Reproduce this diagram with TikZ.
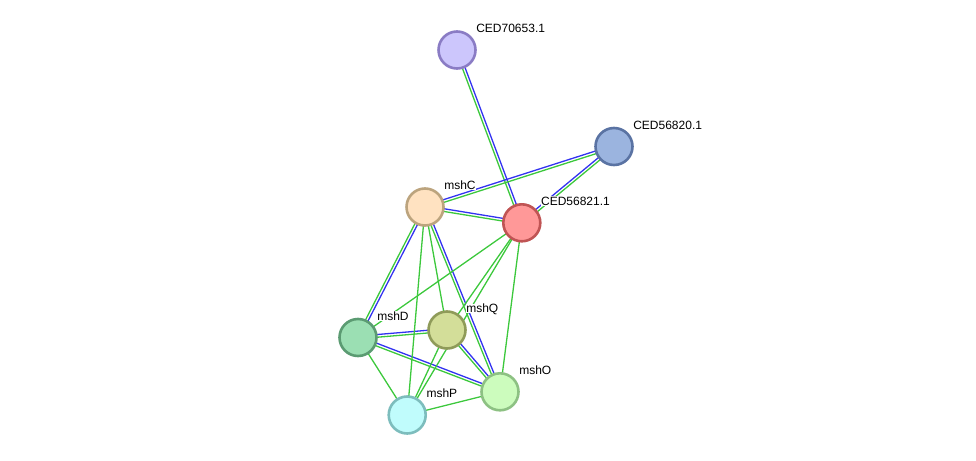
\documentclass[tikz,border=0pt]{standalone}
\usepackage{fontspec}
\setmainfont{Liberation Sans}
\usetikzlibrary{calc}
\definecolor{eg}{HTML}{3CC83C}
\definecolor{eb}{HTML}{3232F0}
\definecolor{f70}{HTML}{CCC6FC}\definecolor{d70}{HTML}{8A7CC4}
\definecolor{f20}{HTML}{9BB4DF}\definecolor{d20}{HTML}{5A73A3}
\definecolor{fC}{HTML}{FFE2C1}\definecolor{dC}{HTML}{BCA47E}
\definecolor{f21}{HTML}{FF9898}\definecolor{d21}{HTML}{C05454}
\definecolor{fD}{HTML}{9BDFB3}\definecolor{dD}{HTML}{5B9B72}
\definecolor{fQ}{HTML}{D3DE99}\definecolor{dQ}{HTML}{8F9B59}
\definecolor{fO}{HTML}{CCFCBD}\definecolor{dO}{HTML}{8DC183}
\definecolor{fP}{HTML}{C0FCFC}\definecolor{dP}{HTML}{7DBDBD}
\tikzset{
  prot/.style={circle, line width=2.6pt, minimum size=37pt, inner sep=0pt},
  lbl/.style={anchor=base west, font=\fontsize{12}{14}\selectfont, text=black,
    fill=white, inner xsep=0.6pt, inner ysep=0.4pt, text height=8.8pt, text depth=0pt},
  gline/.style={eg, line width=1.3pt},
  bline/.style={eb, line width=1.3pt}
}
\newcommand{\bgedge}[2]{%
  \draw[gline] ($(#1)!1.35pt!-90:(#2)$) -- ($(#2)!1.35pt!90:(#1)$);
  \draw[bline] ($(#1)!1.35pt!90:(#2)$) -- ($(#2)!1.35pt!-90:(#1)$);}
\newcommand{\gedge}[2]{\draw[gline] (#1) -- (#2);}
\newcommand{\plabel}[3]{\node[lbl] (#1) at ($(#2)+(18.5,-17.3)$) {#3};}
\begin{document}
\begin{tikzpicture}[x=1pt,y=-1pt]
\useasboundingbox (0,0) rectangle (976,460);
% node centres
\coordinate (p70) at (457,50);
\coordinate (p20) at (614,146.5);
\coordinate (pC) at (425,207);
\coordinate (p21) at (521.8,222.8);
\coordinate (pD) at (358,337.5);
\coordinate (pQ) at (447,330);
\coordinate (pO) at (500,391.8);
\coordinate (pP) at (407.2,415);
% edges
\bgedge{p70}{p21}
\bgedge{p21}{p20}
\bgedge{pC}{p20}
\bgedge{pC}{p21}
\bgedge{pC}{pD}
\bgedge{pC}{pO}
\bgedge{pD}{pQ}
\bgedge{pD}{pO}
\bgedge{pQ}{pO}
\gedge{pC}{pP}
\gedge{pC}{pQ}
\gedge{p21}{pD}
\gedge{p21}{pQ}
\gedge{p21}{pP}
\gedge{p21}{pO}
\gedge{pD}{pP}
\gedge{pQ}{pP}
\gedge{pP}{pO}
% nodes
\node[prot, fill=f70, draw=d70] (n70) at (p70) {};
\node[prot, fill=f20, draw=d20] (n20) at (p20) {};
\node[prot, fill=fC, draw=dC] (nC) at (pC) {};
\node[prot, fill=f21, draw=d21] (n21) at (p21) {};
\node[prot, fill=fD, draw=dD] (nD) at (pD) {};
\node[prot, fill=fQ, draw=dQ] (nQ) at (pQ) {};
\node[prot, fill=fO, draw=dO] (nO) at (pO) {};
\node[prot, fill=fP, draw=dP] (nP) at (pP) {};
% labels
\plabel{l70}{p70}{CED70653.1}
\plabel{l20}{p20}{CED56820.1}
\plabel{lC}{pC}{mshC}
\plabel{l21}{p21}{CED56821.1}
\plabel{lD}{pD}{mshD}
\plabel{lQ}{pQ}{mshQ}
\plabel{lO}{pO}{mshO}
\plabel{lP}{pP}{mshP}
\end{tikzpicture}
\end{document}
